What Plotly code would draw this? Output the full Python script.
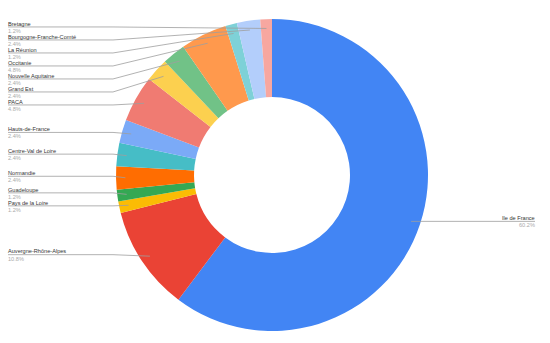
import math
import plotly.graph_objects as go

# ---- data (clockwise from 12 o'clock) ----
regions = ["Ile de France", "Auvergne-Rhône-Alpes", "Pays de la Loire", "Guadeloupe",
           "Normandie", "Centre-Val de Loire", "Hauts-de-France", "PACA", "Grand Est",
           "Nouvelle Aquitaine", "Occitanie", "La Réunion", "Bourgogne-Franche-Comté", "Bretagne"]
counts = [50, 9, 1, 1, 2, 2, 2, 4, 2, 2, 4, 1, 2, 1]
colors = ["#4285F4", "#EA4335", "#FBBC04", "#34A853", "#FF6D01", "#46BDC6", "#7BAAF7",
          "#F07B72", "#FCD04F", "#71C287", "#FF994D", "#7ED1D7", "#B3CEFB", "#F7A7A0"]

W, H = 550, 343
ML, MR, MT, MB = 0, 6, 19, 12
PW, PH = W - ML - MR, H - MT - MB
R = min(PW, PH) / 2
CX, CY = ML + PW / 2, MT + PH / 2
ANCHOR_R = 0.94 * R
SPACING = 13
ELBOW_X = 113
LEFT_X = 8
RIGHT_X = 535


def px2paper(x, y):
    return (x - ML) / PW, (H - MB - y) / PH


fig = go.Figure(go.Pie(
    labels=regions, values=counts, sort=False, direction="clockwise", rotation=0,
    hole=0.5, marker=dict(colors=colors, line=dict(width=0)),
    textinfo="none", hoverinfo="label+percent", showlegend=False,
))

total = sum(counts)
anchors = []
cum = 0
for v in counts:
    mid = (cum + v / 2) / total * 2 * math.pi
    cum += v
    ax = CX + ANCHOR_R * math.sin(mid)
    ay = CY - ANCHOR_R * math.cos(mid)
    anchors.append((ax, ay))

left_idx = [i for i, (ax, ay) in enumerate(anchors) if ax < CX]
right_idx = [i for i, (ax, ay) in enumerate(anchors) if ax >= CX]

shapes = []
annotations = []
FONT = "Liberation Sans, Arial, sans-serif"
name_font = dict(family=FONT, size=5.6, color="#333333")
pct_font = dict(family=FONT, size=5.6, color="#aaaaaa")


def add_label(i, ly, side):
    ax, ay = anchors[i]
    pct = f"{counts[i] / total * 100:.1f}%"
    if side == "left":
        pts = [(LEFT_X, ly), (min(ELBOW_X, ax), ly), (ax, ay)]
        tx, anchor = LEFT_X - 1, "left"
    else:
        pts = [(RIGHT_X, ly), (max(ax, CX), ly), (ax, ay)]
        tx, anchor = RIGHT_X + 1, "right"
    path = ""
    for k, (x, y) in enumerate(pts):
        px, py = px2paper(x, y)
        path += ("M " if k == 0 else " L ") + f"{px:.5f},{py:.5f}"
    shapes.append(dict(type="path", xref="paper", yref="paper", path=path,
                       line=dict(color="#9e9e9e", width=0.8)))
    x0, y0 = px2paper(tx, ly - 3.2)
    annotations.append(dict(x=x0, y=y0, xref="paper", yref="paper", text=regions[i],
                            showarrow=False, xanchor=anchor, yanchor="middle",
                            borderpad=0, font=name_font))
    x1, y1 = px2paper(tx, ly + 4.0)
    annotations.append(dict(x=x1, y=y1, xref="paper", yref="paper", text=pct,
                            showarrow=False, xanchor=anchor, yanchor="middle",
                            borderpad=0, font=pct_font))


# left labels ordered top to bottom, pushed down to keep a minimum spacing
prev = -1e9
for i in sorted(left_idx, key=lambda i: anchors[i][1]):
    ly = max(anchors[i][1] - 1.5, prev + SPACING)
    prev = ly
    add_label(i, ly, "left")

prev = -1e9
for i in sorted(right_idx, key=lambda i: anchors[i][1]):
    ly = max(anchors[i][1], prev + SPACING)
    prev = ly
    add_label(i, ly, "right")

fig.update_layout(
    width=W, height=H,
    margin=dict(l=ML, r=MR, t=MT, b=MB),
    paper_bgcolor="white", plot_bgcolor="white",
    shapes=shapes, annotations=annotations,
)

fig.write_html("out.html")
